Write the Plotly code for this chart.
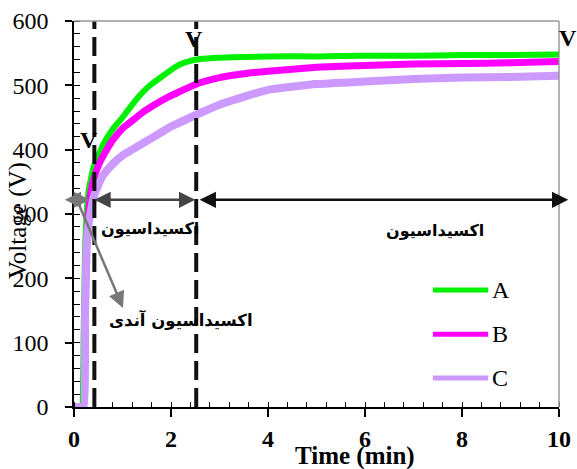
import plotly.graph_objects as go

# ---- data ----
time_min = [0, 0.12, 0.16, 0.2, 0.23, 0.26, 0.3, 0.35, 0.4, 0.5, 0.6, 0.8, 1.0, 1.2, 1.4,
            1.6, 1.8, 2.0, 2.2, 2.4, 2.6, 3.0, 3.5, 4, 5, 6, 7, 8, 9, 10]
volt_A = [0, 0, 0, 120, 250, 300, 335, 355, 372, 390, 408, 432, 450, 470, 488,
          502, 513, 524, 533, 538, 541, 543, 544, 545, 545, 546, 546, 547, 547, 548]
volt_B = [0, 0, 0, 0, 150, 250, 300, 335, 352, 375, 390, 415, 433, 445, 457,
          467, 476, 484, 491, 498, 504, 512, 518, 522, 528, 531, 533, 534, 535, 537]
volt_C = [0, 0, 0, 0, 150, 245, 285, 305, 325, 345, 360, 378, 391, 400, 409,
          418, 427, 436, 443, 450, 457, 470, 482, 493, 502, 506, 510, 512, 513, 515]
series_names = ["A", "B", "C"]
series_colors = ["#00F000", "#FF00FF", "#CC99FF"]
x_ticks = [0, 2, 4, 6, 8, 10]
y_ticks = [0, 100, 200, 300, 400, 500, 600]
stage_times = [0.42, 2.52]
ox_label = "اکسیداسیون"
anodic_label = "اکسیداسیون آندی"

SERIF = "Liberation Serif"
ARAB = "DejaVu Sans"

fig = go.Figure()
for name, ys, col, w in zip(series_names, [volt_A, volt_B, volt_C], series_colors, [6, 7, 8]):
    fig.add_trace(go.Scatter(x=time_min, y=ys, mode="lines", name=name,
                             line=dict(color=col, width=w, shape="spline", smoothing=0.4),
                             showlegend=False))

shapes = []
# dashed stage lines
shapes.append(dict(type="line", xref="x", yref="y", x0=stage_times[0], x1=stage_times[0],
                   y0=0, y1=610, line=dict(color="#111", width=4, dash="19px,8px")))
shapes.append(dict(type="line", xref="x", yref="y", x0=stage_times[1], x1=stage_times[1],
                   y0=0, y1=600, line=dict(color="#111", width=4, dash="19px,8px")))
# gray top / right frame
shapes.append(dict(type="line", xref="paper", yref="paper", x0=0, x1=1, y0=1, y1=1,
                   line=dict(color="#999", width=1.5)))
shapes.append(dict(type="line", xref="paper", yref="paper", x0=1, x1=1, y0=0, y1=1,
                   line=dict(color="#999", width=1.5)))
# legend lines
leg_y = [182, 113, 45]
for ly, col in zip(leg_y, series_colors):
    shapes.append(dict(type="line", xref="x", yref="y", x0=7.40, x1=8.54, y0=ly, y1=ly,
                       line=dict(color=col, width=5)))

ann = []
for ly, name in zip(leg_y, series_names):
    ann.append(dict(x=8.58, y=ly, xref="x", yref="y", text=name, showarrow=False,
                    xanchor="left", yanchor="middle",
                    font=dict(family=SERIF, size=24, color="black")))

arrow_y = 322
def arrow(x0, y0, x1, y1, color, width, both=True, size=1.0):
    return dict(x=x1, y=y1, ax=x0, ay=y0, xref="x", yref="y", axref="x", ayref="y",
                text="", showarrow=True, arrowhead=2, arrowsize=size, arrowwidth=width,
                arrowcolor=color, arrowside="end+start" if both else "end",
                standoff=0, startstandoff=0)

ann.append(arrow(0.36, arrow_y, -0.19, arrow_y, "#777", 2.5, size=1.3))
ann.append(arrow(0.39, arrow_y, 2.50, arrow_y, "#444", 2.5, size=1.3))
ann.append(arrow(2.56, arrow_y, 10.19, arrow_y, "#111", 2.5, size=1.3))
ann.append(arrow(0.06, 322, 1.01, 154, "#777", 2.5, both=False, size=1.3))

# V labels
for xv, yv in [(89, 140), (194, 39), (568, 38)]:
    ann.append(dict(x=(xv - 74) / 485, y=(407 - yv) / 386, xref="paper", yref="paper",
                    text="V", showarrow=False, xanchor="center", yanchor="middle",
                    font=dict(family=SERIF, size=24, color="black", weight="bold")))

# persian labels
ann.append(dict(x=(150 - 74) / 485, y=(407 - 228) / 386, xref="paper", yref="paper",
                text=ox_label, showarrow=False, xanchor="center", yanchor="middle",
                font=dict(family=ARAB, size=16, color="black", weight="bold")))
ann.append(dict(x=(435 - 74) / 485, y=(407 - 231) / 386, xref="paper", yref="paper",
                text=ox_label, showarrow=False, xanchor="center", yanchor="middle",
                font=dict(family=ARAB, size=16, color="black", weight="bold")))
ann.append(dict(x=(181 - 74) / 485, y=(407 - 320) / 386, xref="paper", yref="paper",
                text=anodic_label, showarrow=False, xanchor="center", yanchor="middle",
                font=dict(family=ARAB, size=16.5, color="black", weight="bold")))

# axis titles
ann.append(dict(x=(18 - 74) / 485, y=(407 - 221) / 386, xref="paper", yref="paper",
                text="Voltage (V)", showarrow=False, textangle=-90,
                xanchor="center", yanchor="middle",
                font=dict(family=SERIF, size=25, color="black")))
ann.append(dict(x=(355 - 74) / 485, y=(407 - 456) / 386, xref="paper", yref="paper",
                text="Time (min)", showarrow=False, xanchor="center", yanchor="middle",
                font=dict(family=SERIF, size=25, color="black", weight="bold")))

fig.update_layout(
    width=577, height=469,
    margin=dict(l=74, r=18, t=21, b=62, autoexpand=False),
    paper_bgcolor="white", plot_bgcolor="white",
    shapes=shapes, annotations=ann,
    xaxis=dict(range=[0, 10], tickvals=x_ticks, ticktext=[str(v) for v in x_ticks],
               showgrid=False, zeroline=False, showline=True, linecolor="black", linewidth=1.5,
               ticks="outside", ticklen=8, tickwidth=1.5, tickcolor="black",
               ticklabelstandoff=1,
               tickfont=dict(family=SERIF, size=24, color="black", weight="bold"),
               minor=dict(dtick=0.4, tick0=0, ticks="inside", ticklen=5, tickwidth=1,
                          tickcolor="black", showgrid=False)),
    yaxis=dict(range=[0, 600], tickvals=y_ticks, ticktext=[str(v) for v in y_ticks],
               showgrid=False, zeroline=False, showline=True, linecolor="black", linewidth=1.5,
               ticks="outside", ticklen=7, tickwidth=1.5, tickcolor="black",
               ticklabelstandoff=12,
               tickfont=dict(family=SERIF, size=24, color="black"),
               minor=dict(dtick=20, tick0=0, ticks="inside", ticklen=6, tickwidth=1,
                          tickcolor="black", showgrid=False)),
)

fig.write_html("out.html")
